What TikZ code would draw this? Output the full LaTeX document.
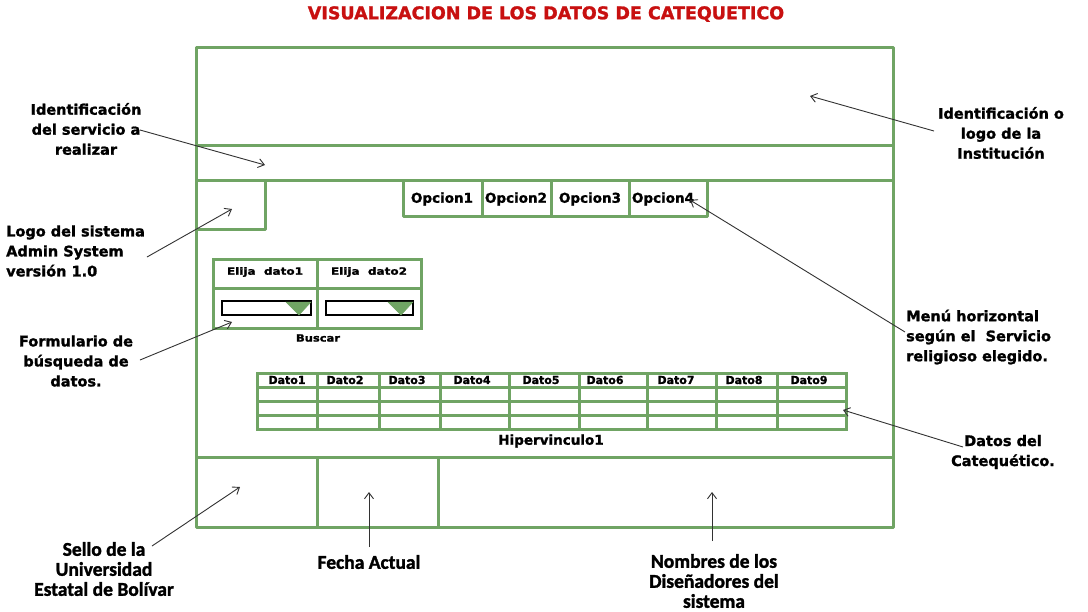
\documentclass[tikz,border=0pt]{standalone}
\usepackage{fontspec}
\usepackage{graphicx}
\setmainfont{DejaVu Sans}[BoldFeatures={FakeBold=1.4}]
\newfontfamily\calfont{Carlito}[BoldFeatures={FakeBold=1.6}]
\usetikzlibrary{arrows.meta}
\definecolor{frm}{RGB}{112,164,100}
\definecolor{arr}{RGB}{50,50,50}
\definecolor{ttl}{RGB}{200,16,16}
\begin{document}
\begin{tikzpicture}[x=1pt,y=-1pt,
  frame/.style={draw=frm,line width=3pt,line join=round},
  gridline/.style={draw=frm,line width=3pt},
  lbl/.style={font=\fontsize{14.5}{20}\selectfont\bfseries,align=center,inner sep=0pt},
  lbll/.style={lbl,align=left,anchor=west},
  blbl/.style={font=\calfont\fontsize{19.5}{20}\selectfont\bfseries,align=center,inner sep=0pt},
  menutxt/.style={font=\fontsize{13.5}{14}\selectfont\bfseries,inner sep=0pt},
  celltxt/.style={font=\fontsize{11}{12}\selectfont\bfseries,inner sep=0pt},
  smalltxt/.style={font=\fontsize{10}{11}\selectfont\bfseries,inner sep=0pt},
  pointer/.style={draw=arr,line width=0.9pt,-{Straight Barb[length=6pt,width=9pt]}},
  dropbox/.style={draw=black,line width=1.8pt,fill=white},
  droptri/.style={fill=frm,draw=frm,line width=0.5pt}
]
\useasboundingbox (0,0) rectangle (1088,611);
\fill[white] (0,0) rectangle (1088,611);

% title
\node[font=\fontsize{17.5}{20}\selectfont\bfseries,text=ttl,inner sep=0pt] (title) at (546,14) {VISUALIZACION DE LOS DATOS DE CATEQUETICO};

% outer frame and bands
\draw[frame] (196,47) rectangle (893,527);
\draw[frame] (196,145) -- (893,145);
\draw[frame] (196,180) -- (893,180);
\draw[frame] (196,457) -- (893,457);
\draw[frame] (317,457) -- (317,527);
\draw[frame] (438,457) -- (438,527);
% logo box
\draw[frame] (196,229) -- (265,229) -- (265,180);
% menu
\draw[frame] (403,180) -- (403,216) -- (707,216) -- (707,180);
\foreach \x in {482,551,629} \draw[frame] (\x,180) -- (\x,216);
\node[menutxt] (op1) at (442,199) {Opcion1};
\node[menutxt] (op2) at (516,199) {Opcion2};
\node[menutxt] (op3) at (590,199) {Opcion3};
\node[menutxt] (op4) at (663,199) {Opcion4};

% search form
\draw[gridline] (213,259) rectangle (421,328);
\draw[gridline] (317,259) -- (317,328);
\draw[gridline] (213,288) -- (421,288);
\node[smalltxt] (el1) at (265,272) {\scalebox{1.2}[1]{Elija\ \ dato1}};
\node[smalltxt] (el2) at (369,272) {\scalebox{1.2}[1]{Elija\ \ dato2}};
\draw[dropbox] (222,301) rectangle (311,315);
\draw[dropbox] (326,301) rectangle (413,315);
\fill[droptri] (286,302) -- (311,302) -- (299,315) -- cycle;
\fill[droptri] (388,302) -- (413,302) -- (401,315) -- cycle;
\node[smalltxt] (buscar) at (318,338) {\scalebox{1.15}[1]{Buscar}};

% data table
\draw[gridline] (257,373) rectangle (846,429);
\foreach \x in {317,379,440,509,579,647,716,777} \draw[gridline] (\x,373) -- (\x,429);
\foreach \y in {387,401,415} \draw[gridline] (257,\y) -- (846,\y);
\foreach \t/\x in {1/287,2/345,3/407,4/472,5/541,6/605,7/676,8/744,9/809}
  \node[celltxt] (d\t) at (\x,380) {Dato\t};
\node[font=\fontsize{13.5}{14}\selectfont\bfseries,inner sep=0pt] (hip) at (551,441) {Hipervinculo1};

% labels
\node[lbl] (lserv) at (86,129) {Identificación\\del servicio a\\realizar};
\node[lbll] (llogo) at (6,251) {Logo del sistema\\Admin System\\versión 1.0};
\node[lbl] (lform) at (76,361) {Formulario de\\búsqueda de\\datos.};
\node[lbl] (linst) at (1001,133) {Identificación o\\logo de la\\Institución};
\node[lbll] (lmenu) at (906,337) {Menú horizontal\\según el\ \ Servicio\\religioso elegido.};
\node[lbl] (ldat) at (1003,452) {Datos del\\Catequético.};
\node[blbl] (lsello) at (104,569) {Sello de la\\Universidad\\Estatal de Bolívar};
\node[blbl] (lfecha) at (369,562) {Fecha Actual};
\node[blbl] (lnomb) at (714,581) {Nombres de los\\Diseñadores del\\sistema};

% connector ends
\coordinate (s1) at (140,130);  \coordinate (t1) at (265,165);
\coordinate (s2) at (147,257);  \coordinate (t2) at (232,209);
\coordinate (s3) at (140,360);  \coordinate (t3) at (232,322);
\coordinate (s4) at (934,131);  \coordinate (t4) at (810,96);
\coordinate (s5) at (905,332);  \coordinate (t5) at (690,200);
\coordinate (s6) at (963,447);  \coordinate (t6) at (843,410);
\coordinate (s7) at (152,546);  \coordinate (t7) at (240,487);
\coordinate (s8) at (369,547);  \coordinate (t8) at (369,492);
\coordinate (s9) at (712,541);  \coordinate (t9) at (712,492);
\foreach \i in {1,...,9} \draw[pointer] (s\i) -- (t\i);
\end{tikzpicture}
\end{document}
